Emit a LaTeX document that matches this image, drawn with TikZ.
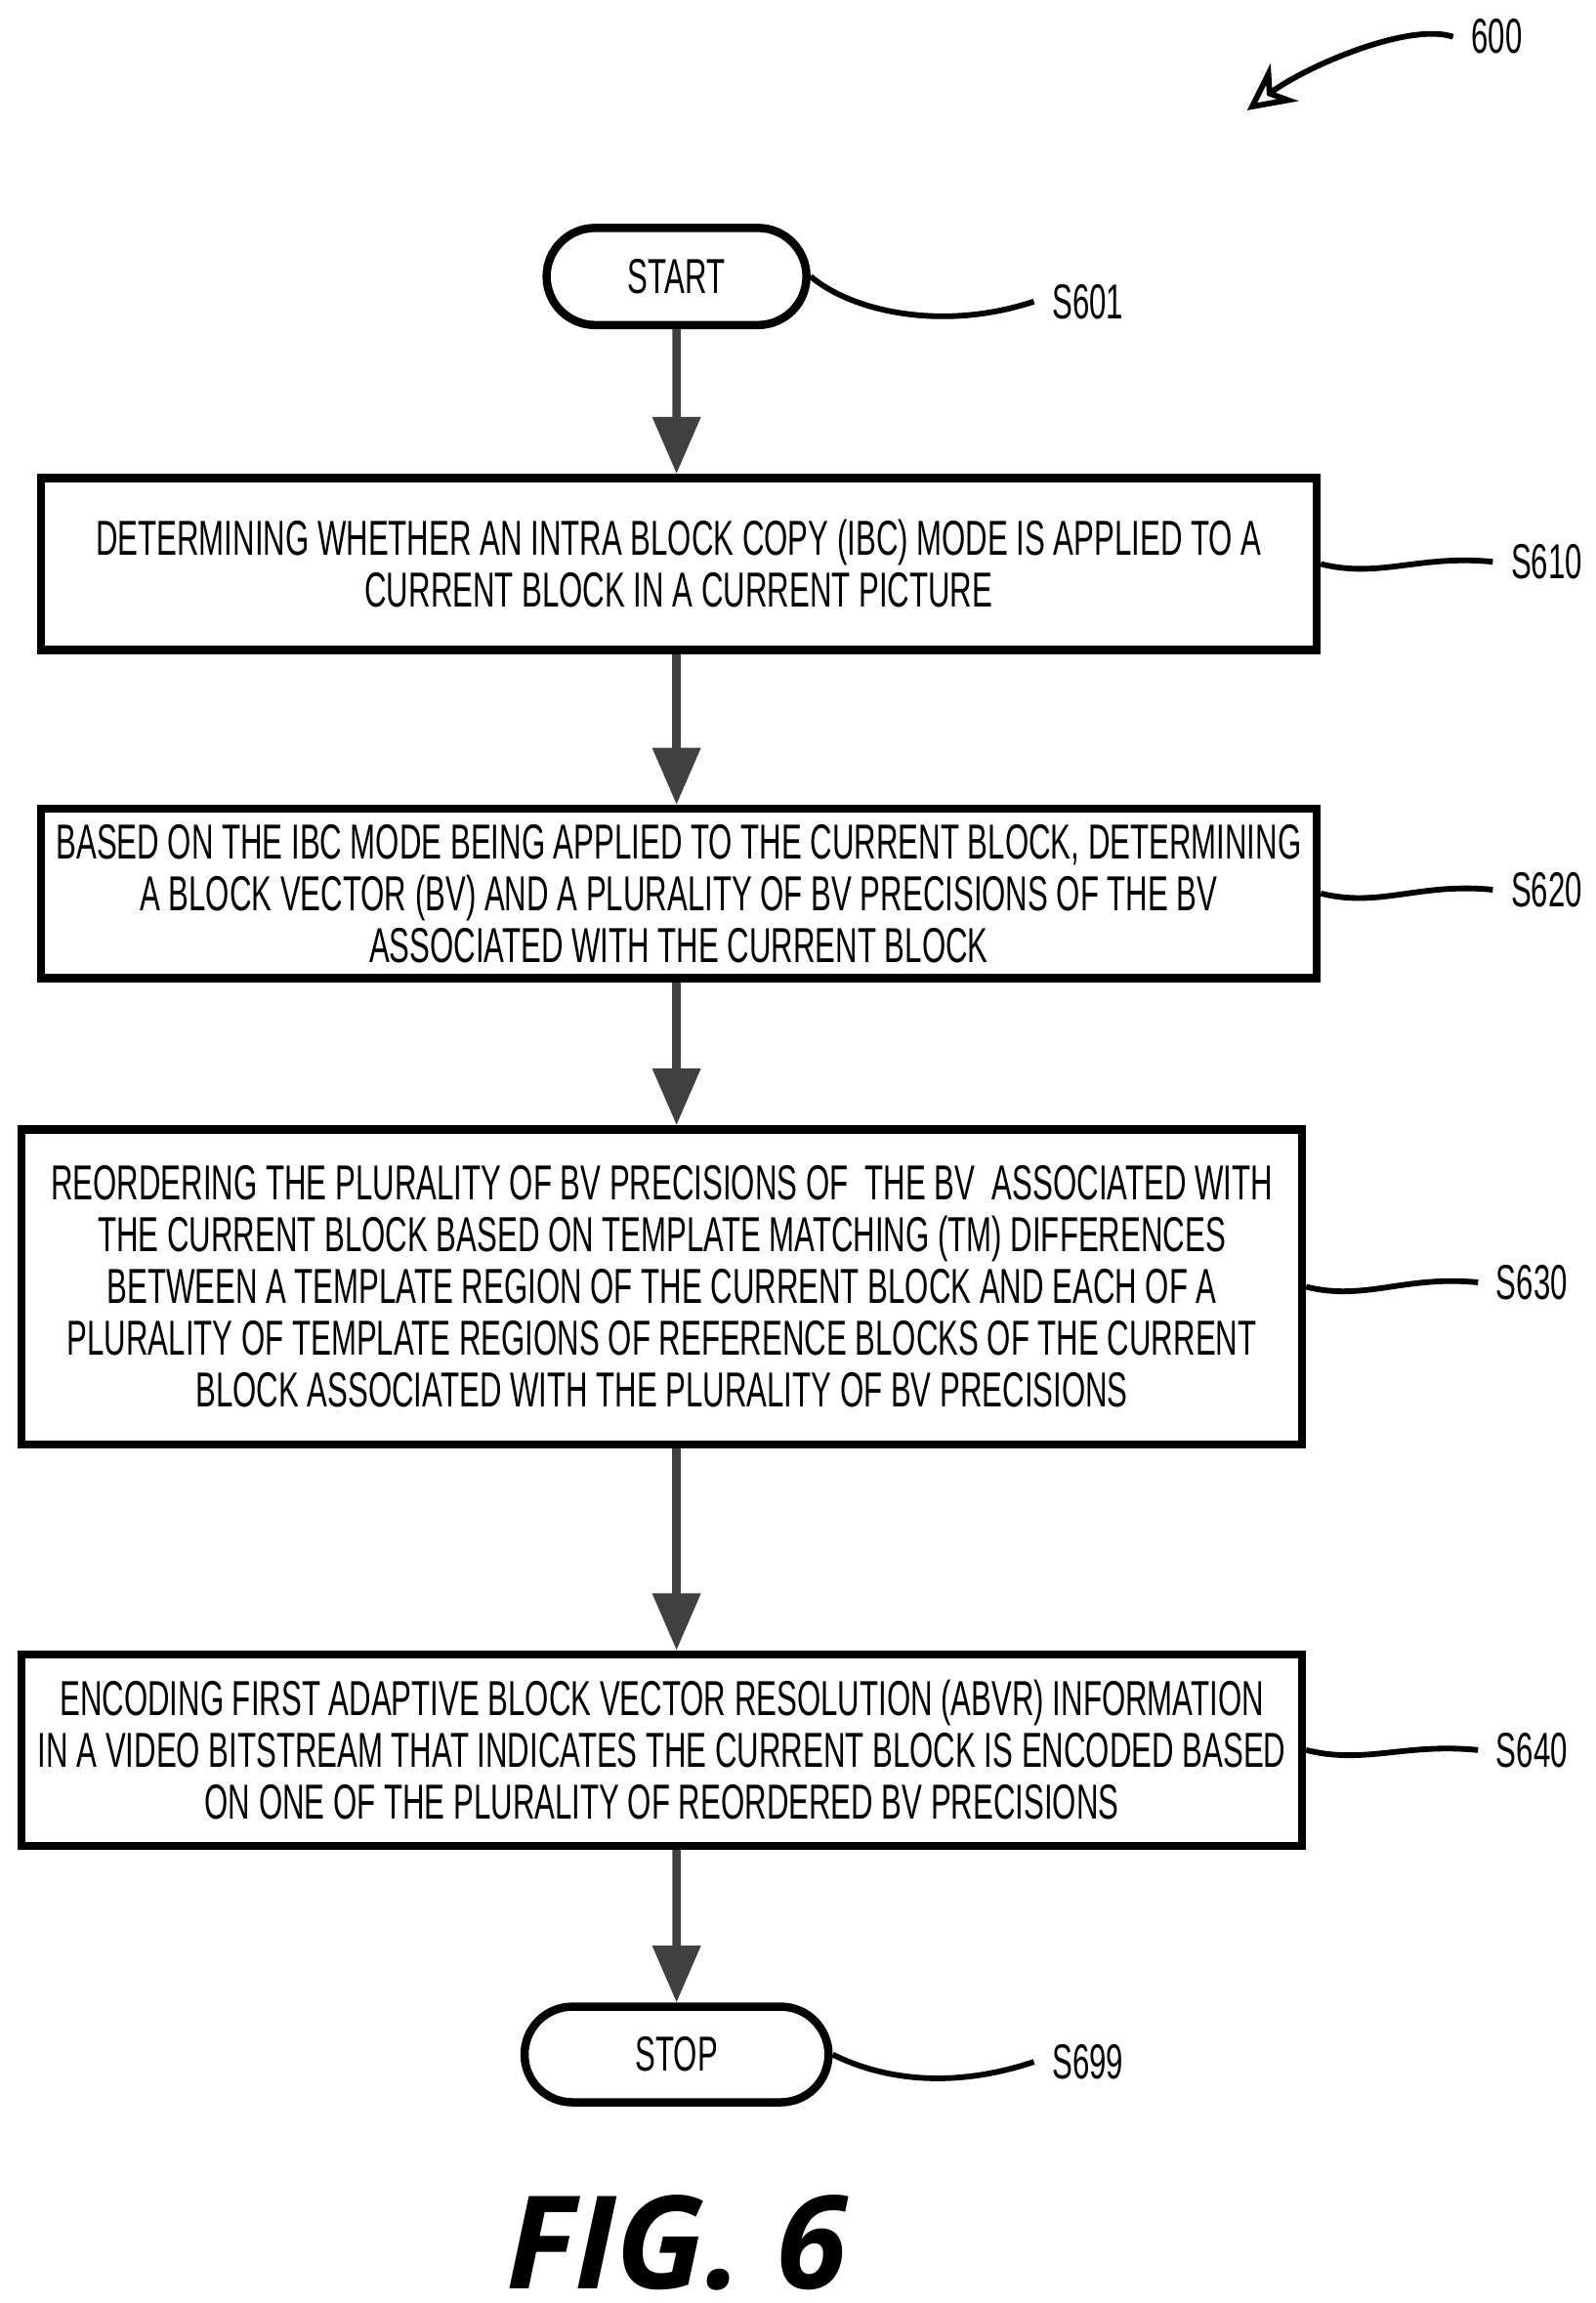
\documentclass[tikz,border=0pt]{standalone}
\usepackage{fontspec}
\setmainfont{Liberation Sans}[FakeStretch=0.62]
\newfontfamily\figfont{Open Sans}
\usetikzlibrary{positioning, shapes.misc, arrows.meta}

\begin{document}
\begin{tikzpicture}[x=0.01cm, y=-0.01cm,
        procbox/.style={rectangle, draw, line width=1.6pt, align=center, font=\fontsize{9.5}{10}\selectfont, inner sep=0pt},
        term/.style={rounded rectangle, draw, line width=1.6pt, minimum width=2cm, minimum height=0.66cm, font=\fontsize{9.5}{10}\selectfont},
        tag/.style={font=\fontsize{9.5}{11}\selectfont, anchor=west},
        flow/.style={-{Triangle[length=11pt, width=9pt]}, line width=1.6pt, draw=black!75},
        wave/.style={line width=1.1pt}
    ]
    \useasboundingbox (0,0) rectangle (1085,1566);

    % terminals and steps
    \node (start) [term] at (460,188) {START};
    \node (s610) [procbox, minimum width=8.67cm, minimum height=1.17cm] at (461.5,383.5) {DETERMINING WHETHER AN INTRA BLOCK COPY (IBC) MODE IS APPLIED TO A\\CURRENT BLOCK IN A CURRENT PICTURE};
    \node (s620) [procbox, minimum width=8.67cm, minimum height=1.15cm] at (461.5,607.5) {BASED ON THE IBC MODE BEING APPLIED TO THE CURRENT BLOCK, DETERMINING\\A BLOCK VECTOR (BV) AND A PLURALITY OF BV PRECISIONS OF THE BV\\ASSOCIATED WITH THE CURRENT BLOCK};
    \node (s630) [procbox, minimum width=8.70cm, minimum height=2.14cm] at (450,875) {REORDERING THE PLURALITY OF BV PRECISIONS OF \ THE BV \ ASSOCIATED WITH\\THE CURRENT BLOCK BASED ON TEMPLATE MATCHING (TM) DIFFERENCES\\BETWEEN A TEMPLATE REGION OF THE CURRENT BLOCK AND EACH OF A\\PLURALITY OF TEMPLATE REGIONS OF REFERENCE BLOCKS OF THE CURRENT\\BLOCK ASSOCIATED WITH THE PLURALITY OF BV PRECISIONS};
    \node (s640) [procbox, minimum width=8.70cm, minimum height=1.30cm] at (450,1190) {ENCODING FIRST ADAPTIVE BLOCK VECTOR RESOLUTION (ABVR) INFORMATION\\IN A VIDEO BITSTREAM THAT INDICATES THE CURRENT BLOCK IS ENCODED BASED\\ON ONE OF THE PLURALITY OF REORDERED BV PRECISIONS};
    \node (stop) [term, minimum width=2.3cm, minimum height=0.65cm] at (460,1397) {STOP};

    \draw[flow] (start) -- (start |- s610.north);
    \draw[flow] (s610.south -| start) -- (start |- s620.north);
    \draw[flow] (s620.south -| start) -- (start |- s630.north);
    \draw[flow] (s630.south -| start) -- (start |- s640.north);
    \draw[flow] (s640.south -| start) -- (stop);

    % step labels
    \node (l601) [tag] at (703,205) {S601};
    \node (l610) [tag] at (1015,382) {S610};
    \node (l620) [tag] at (1015,605) {S620};
    \node (l630) [tag] at (1005,872) {S630};
    \node (l640) [tag] at (1005,1190) {S640};
    \node (l699) [tag] at (703,1402) {S699};
    \draw[wave] (start.east) .. controls +(30,25) and +(-60,20) .. (l601.west);
    \draw[wave] (s610.east) .. controls +(40,10) and +(-50,-5) .. (l610.west);
    \draw[wave] (s620.east) .. controls +(40,10) and +(-50,-5) .. (l620.west);
    \draw[wave] (s630.east) .. controls +(40,10) and +(-50,-5) .. (l630.west);
    \draw[wave] (s640.east) .. controls +(40,10) and +(-50,-5) .. (l640.west);
    \draw[wave] (stop.east) .. controls +(30,15) and +(-60,20) .. (l699.west);

    % figure number
    \node (ref) [tag] at (988,25) {600};
    \coordinate (refend) at (848,75);
    \draw[wave, -{Stealth[open, length=9pt, width=9pt]}] (ref.west) .. controls +(-30,-10) and +(40,-30) .. (refend);
    \node (fig) at (460,1525) {\figfont\fontsize{25}{27}\selectfont\bfseries\itshape FIG. 6};
\end{tikzpicture}
\end{document}
